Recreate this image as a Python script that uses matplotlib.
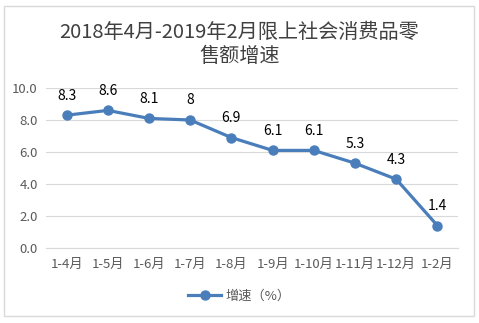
import matplotlib
matplotlib.use('Agg')
import matplotlib.pyplot as plt
from matplotlib.patches import Rectangle

plt.rcParams['font.family'] = ['Noto Sans CJK SC', 'DejaVu Sans']

# 限上社会消费品零售额累计增速（%）
months = ['1-4月', '1-5月', '1-6月', '1-7月', '1-8月', '1-9月', '1-10月', '1-11月', '1-12月', '1-2月']
growth = [8.3, 8.6, 8.1, 8, 6.9, 6.1, 6.1, 5.3, 4.3, 1.4]
growth_labels = ['8.3', '8.6', '8.1', '8', '6.9', '6.1', '6.1', '5.3', '4.3', '1.4']
y_ticks = [0, 2, 4, 6, 8, 10]

line_color = '#4a7ebb'

fig = plt.figure(figsize=(4.79, 3.23), dpi=100)
# 图表外框
fig.patches.append(Rectangle((4 / 479, 1 - 316 / 323), 470 / 479, 310 / 323,
                             transform=fig.transFigure, fill=False,
                             edgecolor='#d9d9d9', linewidth=1))

ax = fig.add_axes([46 / 479, 1 - 248 / 323, 412 / 479, 160 / 323])
x = range(len(months))
ax.plot(x, growth, color=line_color, linewidth=2.3, marker='o', markersize=6.5,
        label='增速（%）', zorder=3)

for i, (v, s) in enumerate(zip(growth, growth_labels)):
    ax.annotate(s, (i, v), xytext=(0, 9), textcoords='offset points',
                ha='center', va='bottom', fontsize=10, color='#000000')

ax.set_xlim(-0.5, len(months) - 0.5)
ax.set_ylim(0, 10)
ax.set_yticks(y_ticks)
ax.set_yticklabels([f'{t:.1f}' for t in y_ticks])
ax.set_xticks(list(x))
ax.set_xticklabels(months)
ax.tick_params(axis='both', length=0, labelsize=9.5, colors='#595959')
ax.tick_params(axis='x', pad=7)
ax.tick_params(axis='y', pad=6)
ax.grid(axis='y', color='#d9d9d9', linewidth=0.8)
ax.set_axisbelow(True)
for side in ['top', 'right', 'left']:
    ax.spines[side].set_visible(False)
ax.spines['bottom'].set_color('#d9d9d9')

fig.text(0.5, 1 - 32 / 323, '2018年4月-2019年2月限上社会消费品零', ha='center', va='center',
         fontsize=14.5, color='#404040')
fig.text(0.5, 1 - 56 / 323, '售额增速', ha='center', va='center',
         fontsize=14.5, color='#404040')

fig.legend(loc='center', bbox_to_anchor=(0.5, 1 - 296 / 323), frameon=False,
           fontsize=9.5, labelcolor='#595959', handlelength=2.5, handletextpad=0.3)

fig.savefig('out.png', dpi=100)
